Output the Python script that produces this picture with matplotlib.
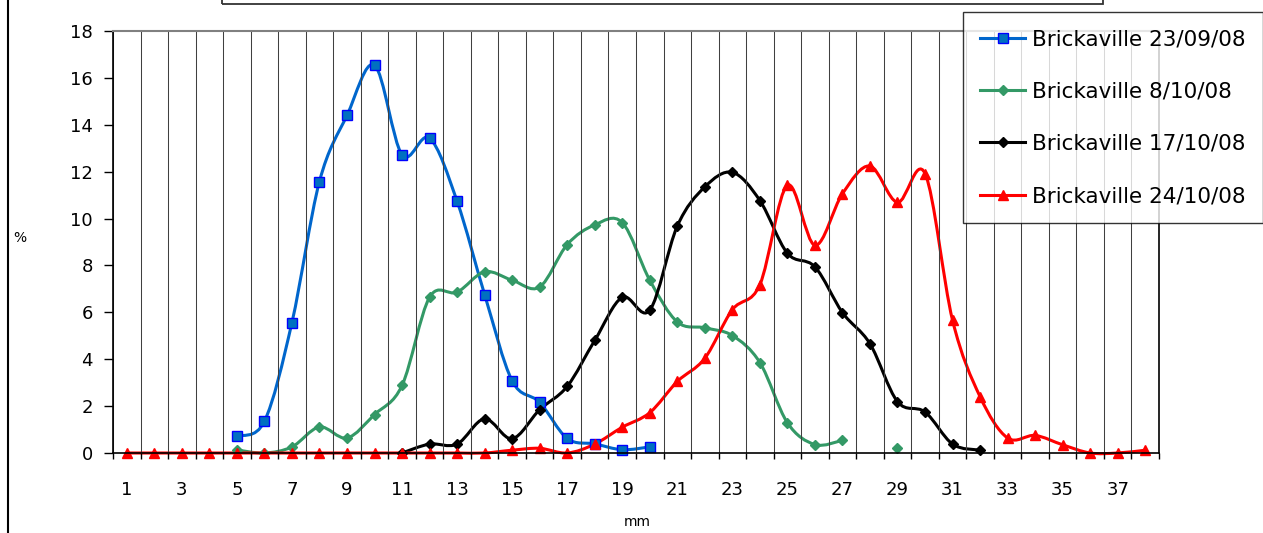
import numpy as np
import matplotlib.pyplot as plt
from matplotlib.path import Path
from matplotlib.patches import PathPatch, Rectangle
from matplotlib.lines import Line2D

plt.rcParams["font.family"] = ["DejaVu Sans"]

# size classes (mm) and percentage per sampling date
sizes = list(range(1, 39))

sep23_x = list(range(5, 21))
sep23_y = [0.72, 1.35, 5.56, 11.58, 14.40, 16.54, 12.72, 13.43, 10.74, 6.76,
           3.08, 2.16, 0.62, 0.39, 0.14, 0.26]

oct08_x = list(range(5, 30))
oct08_y = [0.13, 0.0, 0.26, 1.11, 0.64, 1.64, 2.88, 6.64, 6.86, 7.73, 7.37, 7.08,
           8.89, 9.73, 9.83, 7.37, 5.59, 5.34, 5.01, 3.86, 1.29, 0.36, 0.54,
           np.nan, 0.23]

oct17_x = list(range(11, 33))
oct17_y = [0.0, 0.38, 0.38, 1.46, 0.61, 1.85, 2.84, 4.80, 6.64, 6.09, 9.68, 11.35,
           11.97, 10.77, 8.52, 7.94, 5.99, 4.66, 2.19, 1.75, 0.38, 0.12]

oct24_x = list(range(1, 39))
oct24_y = [0, 0, 0, 0, 0, 0, 0, 0, 0, 0, 0, 0, 0, 0, 0.12, 0.20, 0.0, 0.38, 1.10,
           1.72, 3.05, 4.04, 6.11, 7.18, 11.42, 8.86, 11.06, 12.24, 10.69, 11.92,
           5.66, 2.40, 0.64, 0.75, 0.35, 0.0, 0.0, 0.12]

labels = ["Brickaville 23/09/08", "Brickaville 8/10/08",
          "Brickaville 17/10/08", "Brickaville 24/10/08"]


def smooth_path(x, y):
    """Excel-like smoothed line through the points (Catmull-Rom beziers)."""
    pts = np.column_stack([x, y]).astype(float)
    n = len(pts)
    verts = [pts[0]]
    codes = [Path.MOVETO]
    for i in range(n - 1):
        p0 = pts[max(i - 1, 0)]
        p1 = pts[i]
        p2 = pts[i + 1]
        p3 = pts[min(i + 2, n - 1)]
        verts += [p1 + (p2 - p0) / 6, p2 - (p3 - p1) / 6, p2]
        codes += [Path.CURVE4] * 3
    return Path(verts, codes)


def draw_series(ax, x, y, color, marker, ms, mfc, mec):
    x = np.asarray(x, float)
    y = np.asarray(y, float)
    ok = ~np.isnan(y)
    # split into continuous runs
    start = None
    for i in range(len(x) + 1):
        if i < len(x) and ok[i]:
            if start is None:
                start = i
        elif start is not None:
            if i - start > 1:
                ax.add_patch(PathPatch(smooth_path(x[start:i], y[start:i]),
                                       fill=False, edgecolor=color, lw=2.2,
                                       capstyle="round", joinstyle="round",
                                       clip_on=False))
            start = None
    ax.plot(x[ok], y[ok], linestyle="none", marker=marker, ms=ms,
            mfc=mfc, mec=mec, mew=1, clip_on=False)
    return Line2D([], [], color=color, lw=2.2, marker=marker, ms=ms,
                  mfc=mfc, mec=mec, mew=1)


fig = plt.figure(figsize=(12.63, 5.33), dpi=100)
ax = fig.add_axes([113 / 1263, 80 / 533, 1046 / 1263, 422 / 533])

handles = [
    draw_series(ax, sep23_x, sep23_y, "#0066CC", "s", 6.5, "#0070C0", "#0000FF"),
    draw_series(ax, oct08_x, oct08_y, "#339966", "D", 5, "#339966", "#339966"),
    draw_series(ax, oct17_x, oct17_y, "#000000", "D", 5, "#000000", "#000000"),
    draw_series(ax, oct24_x, oct24_y, "#FF0000", "^", 7.5, "#FF0000", "#FF0000"),
]

ax.set_xlim(0.5, 38.5)
ax.set_ylim(0, 18)
ax.set_xticks(sizes[::2])
ax.set_xticks(np.arange(0.5, 39, 1), minor=True)
ax.set_yticks(range(0, 19, 2))
ax.tick_params(axis="x", which="major", length=0, pad=20, labelsize=13)
ax.tick_params(axis="x", which="minor", length=4.5, width=1, direction="out")
ax.tick_params(axis="y", length=6.5, width=1, direction="out", pad=8,
               labelsize=13)
ax.grid(which="minor", axis="x", color="#404040", linewidth=0.75)

for side in ["left", "bottom", "right"]:
    ax.spines[side].set_color("#000000")
    ax.spines[side].set_linewidth(1.2)
ax.spines["top"].set_color("#808080")
ax.spines["top"].set_linewidth(1.5)

ax.set_xlabel("mm", fontsize=10)
ax.xaxis.set_label_coords(0.501, -0.148)
ax.set_ylabel("%", fontsize=10, rotation=0, ha="center", va="center")
ax.yaxis.set_label_coords(-0.089, 0.509)

leg = fig.legend(handles, labels, loc="upper left",
                 bbox_to_anchor=(963 / 1263, 1 - 12 / 533),
                 fontsize=15.5, frameon=True, fancybox=False, shadow=False,
                 borderpad=0.8, handlelength=2.1, handletextpad=0.3,
                 labelspacing=1.5, borderaxespad=0)
leg.get_frame().set_edgecolor("#000000")
leg.get_frame().set_linewidth(1.0)

# empty title box at the top and the left border of the chart area
fig.add_artist(Rectangle((222 / 1263, 1 - 4 / 533), 881 / 1263, 0.2,
                         transform=fig.transFigure, fill=False,
                         edgecolor="#333333", lw=1.3))
fig.add_artist(Line2D([8 / 1263, 8 / 1263], [0, 1], transform=fig.transFigure,
                      color="#000000", lw=1.5))

fig.savefig("out.png", dpi=100)
